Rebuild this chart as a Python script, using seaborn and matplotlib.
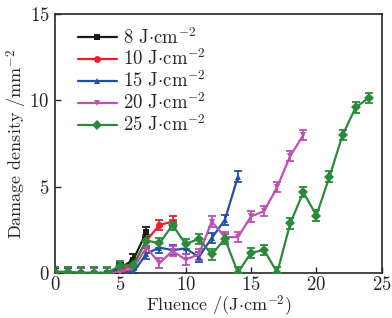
import numpy as np
import pandas as pd
import matplotlib
matplotlib.use('Agg')
import matplotlib.pyplot as plt
import seaborn as sns

sns.set_style('ticks')
plt.rcParams['font.family'] = ['cmr10', 'DejaVu Serif']
plt.rcParams['mathtext.fontset'] = 'cm'
plt.rcParams['axes.unicode_minus'] = False
plt.rcParams['axes.formatter.use_mathtext'] = True

# fluence series (J/cm^2) and damage density (/mm^2)
labels = ['8', '10', '15', '20', '25']
y8 = [0, 0, 0, 0, 0, 0.3, 0.8, 2.4]
y10 = [0.1, 0, 0, 0, 0, 0.2, 0.5, 1.9, 2.8, 3.0]
y15 = [0.1, 0, 0, 0, 0, 0.2, 0.05, 1.15, 1.5, 1.35, 1.45, 0.95, 2.05, 3.1, 5.6]
y20 = [0.05, 0.05, 0, 0, 0, 0.1, 0.3, 1.5, 0.6, 1.3, 0.8, 1.1, 3.0, 2.1, 2.1,
       3.3, 3.6, 5.0, 6.8, 8.0]
y25 = [0.1, 0.1, 0.05, 0.05, 0.05, 0.45, 0.5, 1.9, 1.75, 2.8, 1.7, 2.0, 1.1, 2.0,
       0.05, 1.2, 1.35, 0.05, 2.9, 4.7, 3.35, 5.6, 8.0, 9.6, 10.15]
err = 0.3

series = [y8, y10, y15, y20, y25]
colors = ['#1a1a1a', '#e8202a', '#1f50a8', '#c04fb4', '#2a8a3a']
markers = ['s', 'o', '^', 'v', 'D']

rows = []
for lab, ys in zip(labels, series):
    for i, v in enumerate(ys):
        rows.append({'fluence': i, 'density': v,
                     'series': lab + r' J$\cdot$cm$^{-2}$'})
df = pd.DataFrame(rows)

fig = plt.figure(figsize=(3.92, 3.18), dpi=100)
ax = fig.add_axes([0.140, 0.14, 0.834, 0.816])

names = df['series'].unique()
for name, c, m in zip(names, colors, markers):
    d = df[df['series'] == name]
    ax.errorbar(d['fluence'], d['density'], yerr=err, fmt='none', ecolor=c,
                elinewidth=1.3, capsize=3, capthick=1.3, zorder=2)
sns.lineplot(data=df, x='fluence', y='density', hue='series', style='series',
             palette=colors, markers=markers, dashes=False, markersize=5,
             markeredgewidth=0, linewidth=1.6, ax=ax, zorder=3)

ax.set_xlim(0, 25)
ax.set_ylim(0, 15)
ax.set_xticks([0, 5, 10, 15, 20, 25])
ax.set_yticks([0, 5, 10, 15])
ax.tick_params(direction='in', labelsize=13.5, length=4, width=1)
ax.tick_params(axis='x', pad=2)
ax.tick_params(axis='y', pad=4)
for s in ax.spines.values():
    s.set_linewidth(1.2)
ax.set_xlabel(r'Fluence /(J$\cdot$cm$^{-2}$)', fontsize=13, labelpad=0)
ax.set_ylabel(r'Damage density /mm$^{-2}$', fontsize=13, labelpad=0)

leg = ax.legend(loc='upper left', bbox_to_anchor=(0.035, 0.995), frameon=False,
                fontsize=13.5, handlelength=2.1, handletextpad=0.3,
                labelspacing=0.05, borderaxespad=0.2)

fig.savefig('out.png', dpi=100)
